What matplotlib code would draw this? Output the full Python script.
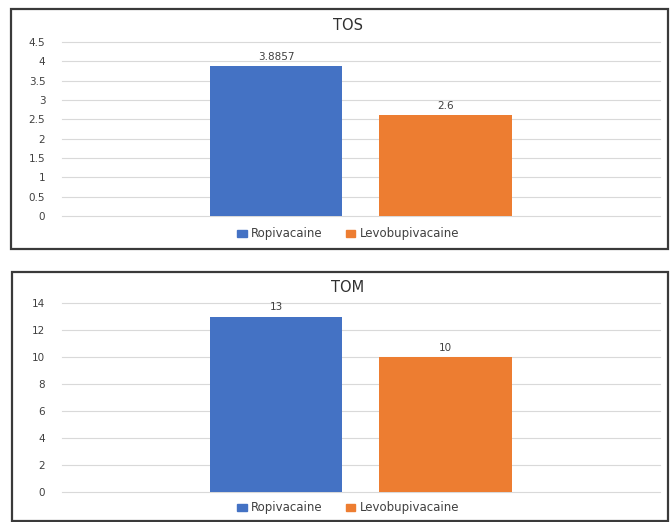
import matplotlib
matplotlib.use("Agg")
import matplotlib.pyplot as plt
from matplotlib.patches import Rectangle, Patch

# data
series = ["Ropivacaine", "Levobupivacaine"]
colors = ["#4472C4", "#ED7D31"]
tos_values = [3.8857, 2.6]
tos_labels = ["3.8857", "2.6"]
tom_values = [13, 10]
tom_labels = ["13", "10"]
tos_ticks = [0, 0.5, 1, 1.5, 2, 2.5, 3, 3.5, 4, 4.5]
tom_ticks = [0, 2, 4, 6, 8, 10, 12, 14]

plt.rcParams["font.family"] = ["DejaVu Sans"]
TXT = "#404040"

W, H = 670, 522
fig = plt.figure(figsize=(W / 100, H / 100), dpi=100)


def fx(px):
    return px / W


def fy(py):
    return 1 - py / H


def panel(box, plot_box, title, title_y, values, labels, ticks, leg_y):
    # box: (x0, y0, x1, y1) in pixels for the black frame
    x0, y0, x1, y1 = box
    fig.patches.append(Rectangle((fx(x0), fy(y1)), fx(x1 - x0), (y1 - y0) / H,
                                 transform=fig.transFigure, fill=False,
                                 edgecolor="#3a3a3a", linewidth=1.6))
    px0, py0, px1, py1 = plot_box
    ax = fig.add_axes([fx(px0), fy(py1), fx(px1 - px0), (py1 - py0) / H])
    pos = [0, 1]
    bars = ax.bar(pos, values, width=0.78, color=colors, zorder=3)
    for b, lab in zip(bars, labels):
        ax.annotate(lab, (b.get_x() + b.get_width() / 2, b.get_height()),
                    xytext=(0, 3), textcoords="offset points",
                    ha="center", va="bottom", fontsize=7.5, color=TXT)
    ax.set_xlim(-1.2625, 2.2655)
    ax.set_ylim(ticks[0], ticks[-1])
    ax.set_yticks(ticks)
    ax.set_yticklabels([f"{t:g}" for t in ticks])
    ax.set_xticks([])
    ax.tick_params(axis="y", length=0, pad=12, labelsize=7.5, labelcolor=TXT)
    ax.grid(axis="y", color="#d9d9d9", linewidth=0.8, zorder=0)
    for gl in ax.get_ygridlines():
        gl.set_clip_on(False)
    for s in ax.spines.values():
        s.set_visible(False)
    fig.text(fx(348), fy(title_y), title, ha="center", va="center",
             fontsize=10.5, color="#303030")
    handles = [Patch(color=c, label=s) for c, s in zip(colors, series)]
    fig.legend(handles=handles, loc="center", bbox_to_anchor=(fx(348), fy(leg_y)),
               ncol=2, frameon=False, fontsize=8.5, labelcolor=TXT,
               handlelength=0.8, handleheight=0.5, handletextpad=0.35,
               columnspacing=2.0)
    return ax


panel((11, 9, 668, 249), (62, 42, 660, 216), "TOS", 25,
      tos_values, tos_labels, tos_ticks, 234)
panel((12, 272, 668, 521), (62, 303, 660, 492), "TOM", 287,
      tom_values, tom_labels, tom_ticks, 508)

fig.savefig("out.png", dpi=100)
